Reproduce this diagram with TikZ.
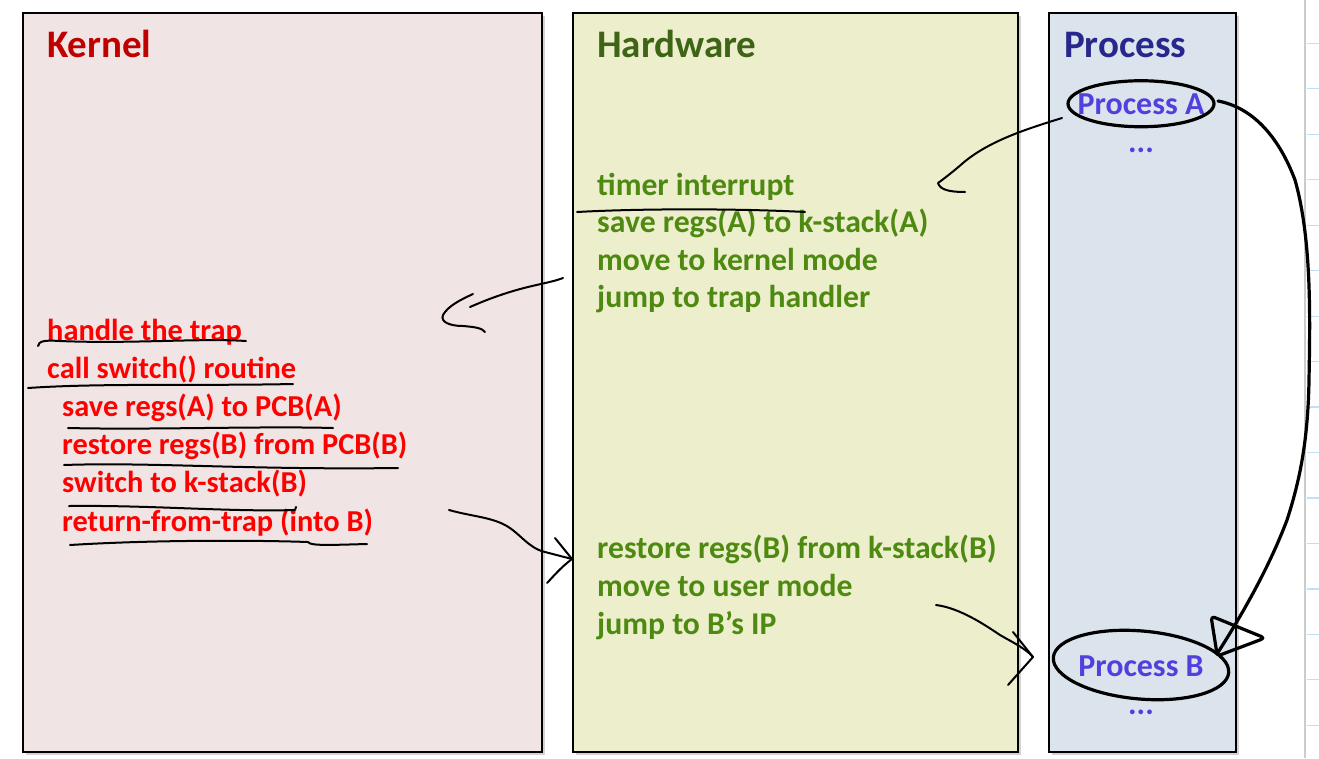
\documentclass[tikz,border=0pt]{standalone}
\usepackage{fontspec}
\setmainfont{Carlito}
\usetikzlibrary{shadows}

\definecolor{kernelbg}{RGB}{240,229,228}
\definecolor{hwbg}{RGB}{237,238,204}
\definecolor{procbg}{RGB}{219,228,236}
\definecolor{kerneltitle}{RGB}{192,0,0}
\definecolor{hwtitle}{RGB}{62,100,22}
\definecolor{proctitle}{RGB}{40,40,140}
\definecolor{hwgreen}{RGB}{78,138,18}
\definecolor{procblue}{RGB}{82,64,222}
\definecolor{sheetline}{RGB}{190,225,245}

\begin{document}
\begin{tikzpicture}[
    x=1pt, y=-1pt,
    panel/.style={draw=black, line width=2.4pt, inner sep=0pt, anchor=north west,
                  drop shadow={shadow xshift=3pt, shadow yshift=-3pt, opacity=.35}},
    paneltitle/.style={font=\bfseries\fontsize{39}{47}\selectfont,
                       anchor=base west, inner sep=0pt},
    hwtxt/.style={font=\bfseries\fontsize{31.7}{38}\selectfont, text=hwgreen,
                  anchor=base west, inner sep=0pt},
    ktxt/.style={font=\bfseries\fontsize{30.4}{36}\selectfont, text=red,
                 anchor=base west, inner sep=0pt},
    proctxt/.style={font=\bfseries\fontsize{32}{38}\selectfont, text=procblue,
                    anchor=base, inner sep=0pt},
    ink/.style={draw=black, line width=2pt, line cap=round, line join=round},
    thickink/.style={ink, line width=3.2pt}
  ]
  \useasboundingbox (0,0) rectangle (1319,758);

  % sheet behind the slide
  \draw[black!20, line width=2pt] (1305,0) -- (1305,758);
  \foreach \i in {0,...,15} {
    \draw[sheetline, line width=1.2pt] (1307, 43.3+\i*45.47) -- (1319, 43.3+\i*45.47);
  }

  % Panels
  \node[panel, fill=kernelbg, minimum width=519pt, minimum height=739pt] (kernel) at (22,12) {};
  \node[panel, fill=hwbg, minimum width=445pt, minimum height=739pt] (hw) at (572,12) {};
  \node[panel, fill=procbg, minimum width=187pt, minimum height=739pt] (proc) at (1048,12) {};

  \node[paneltitle, text=kerneltitle] (kerneltitle) at (47,57) {Kernel};
  \node[paneltitle, text=hwtitle] (hwtitle) at (597,57) {Hardware};
  \node[paneltitle, text=proctitle] (proctitle) at (1064,57) {Process};

  % Hardware steps
  \foreach \txt [count=\i from 0] in {timer interrupt, save regs(A) to k-stack(A),
      move to kernel mode, jump to trap handler} {
    \node[hwtxt] (hwa\i) at (597, 195+\i*37.5) {\txt};
  }
  \foreach \txt [count=\i from 0] in {restore regs(B) from k-stack(B),
      move to user mode, jump to B’s IP} {
    \node[hwtxt] (hwb\i) at (597, 558+\i*38) {\txt};
  }

  % Kernel steps
  \foreach \x/\txt [count=\i from 0] in {47/handle the trap, 47/call switch() routine,
      62/save regs(A) to PCB(A), 62/restore regs(B) from PCB(B),
      62/switch to k-stack(B), 62/return-from-trap (into B)} {
    \node[ktxt] (k\i) at (\x, 340+\i*38.2) {\txt};
  }

  % Processes
  \node[proctxt] (procA) at (1141,114) {Process A};
  \node[proctxt] (dotsA) at (1141,152) {...};
  \node[proctxt] (procB) at (1141,676) {Process B};
  \node[proctxt] (dotsB) at (1141,714) {...};

  % hand-drawn marks
  \draw[thickink] (procA.center) ellipse [x radius=73, y radius=23];
  \draw[thickink, rotate around={-5:(1141,665)}] (1141,665) ellipse [x radius=88, y radius=34];

  \coordinate (tipA) at (938,183);
  \coordinate (tipK) at (443,315);
  \coordinate (tipH) at (572,559);
  \coordinate (tipB) at (1033,657);
  \coordinate (tipP) at (1217,654);

  % Process A -> timer interrupt
  \draw[ink] (1062,118) .. controls (1030,128) and (990,140) .. (963,163)
    .. controls (955,170) and (945,178) .. (tipA)
    .. controls (940,190) and (950,192) .. (965,192);
  % jump to trap handler -> kernel
  \draw[ink] (563,278) .. controls (545,285) and (520,285) .. (470,307);
  \draw[ink] (473,294) .. controls (460,300) and (448,306) .. (tipK)
    .. controls (440,322) and (450,326) .. (463,326)
    .. controls (475,327) and (482,328) .. (485,332);
  % return-from-trap -> hardware
  \draw[ink] (449,510) .. controls (470,516) and (490,517) .. (505,525)
    .. controls (520,533) and (528,548) .. (545,552) -- (tipH);
  \draw[ink] (555,538) -- (tipH) .. controls (560,568) and (552,578) .. (547,583);
  % jump to B's IP -> Process B
  \draw[ink] (936,605) .. controls (960,608) and (985,625) .. (1000,635)
    .. controls (1012,642) and (1025,648) .. (tipB);
  \draw[ink] (1013,632) -- (tipB) -- (1008,685);
  % Process A -> Process B
  \draw[thickink] (1218,101) .. controls (1255,108) and (1280,140) .. (1295,180)
    .. controls (1312,240) and (1310,320) .. (1309,380)
    .. controls (1308,440) and (1300,480) .. (1287,520)
    .. controls (1270,565) and (1245,610) .. (tipP);
  \draw[thickink, rounded corners=4pt] (tipP) -- (1211,616) -- (1265,638) -- (1220,655);

  % underlines
  \draw[ink] (38,346) .. controls (39,341) and (44,340) .. (60,341)
    .. controls (130,344) and (200,338) .. (246,341);
  \draw[ink] (28,388) .. controls (100,383) and (200,386) .. (293,384);
  \draw[ink] (68,428) .. controls (150,430) and (260,426) .. (333,428);
  \draw[ink] (64,465) .. controls (150,462) and (250,470) .. (398,468);
  \draw[ink] (69,506) .. controls (150,505) and (230,512) .. (295,510) -- (296,507);
  \draw[ink] (70,545) .. controls (150,540) and (250,540) .. (308,542)
    .. controls (310,546) and (330,545) .. (367,544);
  \draw[ink] (577,212) .. controls (650,208) and (750,209) .. (805,212);
\end{tikzpicture}
\end{document}
